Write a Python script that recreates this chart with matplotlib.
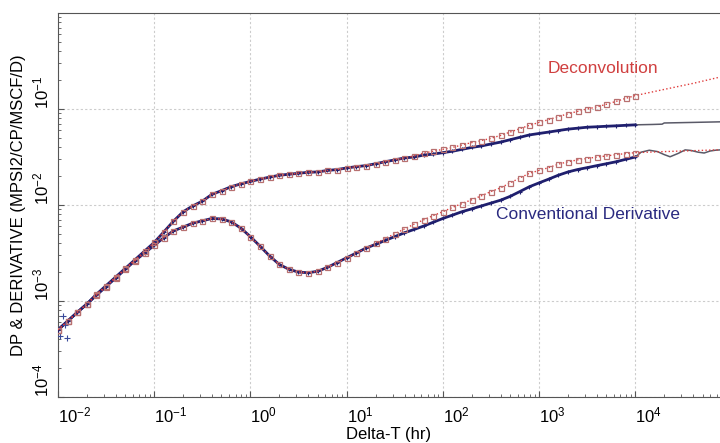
import matplotlib
matplotlib.use('Agg')
import matplotlib.pyplot as plt
from matplotlib.ticker import NullFormatter

plt.rcParams['font.family'] = ['Liberation Sans', 'DejaVu Sans']
plt.rcParams['mathtext.fontset'] = 'custom'
plt.rcParams['mathtext.rm'] = 'Liberation Sans'
plt.rcParams['mathtext.it'] = 'Liberation Sans:italic'
plt.rcParams['mathtext.bf'] = 'Liberation Sans:bold'

# sample times (hr), one point every 0.1 log cycle
times = [0.01, 0.0126, 0.0158, 0.02, 0.0251, 0.0316, 0.0398, 0.0501, 0.0631, 0.0794,
         0.1, 0.126, 0.158, 0.2, 0.251, 0.316, 0.398, 0.501, 0.631, 0.794,
         1, 1.26, 1.58, 2, 2.51, 3.16, 3.98, 5.01, 6.31, 7.94,
         10, 12.6, 15.8, 20, 25.1, 31.6, 39.8, 50.1, 63.1, 79.4,
         100, 126, 158, 200, 251, 316, 398, 501, 631, 794,
         1000, 1260, 1580, 2000, 2510, 3160, 3980, 5010, 6310, 7940, 10000]

# conventional pressure change
dp_conv = [5.01e-4, 6.17e-4, 7.59e-4, 9.33e-4, 1.175e-3, 1.445e-3, 1.778e-3, 2.188e-3, 2.69e-3, 3.31e-3,
           4.07e-3, 5.25e-3, 6.76e-3, 8.51e-3, 9.77e-3, 0.01096, 0.0129, 0.0141, 0.0155, 0.0166,
           0.0176, 0.0186, 0.0195, 0.0204, 0.0209, 0.0214, 0.0219, 0.0221, 0.0229, 0.0234,
           0.0243, 0.0251, 0.0257, 0.0269, 0.0282, 0.0295, 0.0309, 0.0316, 0.0331, 0.0339,
           0.0351, 0.0363, 0.0380, 0.0398, 0.0412, 0.0432, 0.0452, 0.0479, 0.0507, 0.0537,
           0.0556, 0.0575, 0.0596, 0.0617, 0.0631, 0.0646, 0.0653, 0.0661, 0.0668, 0.0676, 0.0684]

# deconvolved pressure change
dp_deconv = [5.01e-4, 6.17e-4, 7.59e-4, 9.33e-4, 1.175e-3, 1.445e-3, 1.778e-3, 2.188e-3, 2.69e-3, 3.31e-3,
             4.07e-3, 5.25e-3, 6.76e-3, 8.51e-3, 9.77e-3, 0.01096, 0.0129, 0.0141, 0.0155, 0.0166,
             0.0176, 0.0186, 0.0195, 0.0204, 0.0209, 0.0214, 0.0219, 0.0221, 0.0229, 0.0234,
             0.0243, 0.0251, 0.0257, 0.0269, 0.0282, 0.0295, 0.0309, 0.0324, 0.0347, 0.0363,
             0.0380, 0.0398, 0.0422, 0.0447, 0.0468, 0.0495, 0.0531, 0.0575, 0.0624, 0.0676,
             0.0724, 0.0776, 0.0832, 0.0891, 0.0944, 0.100, 0.105, 0.112, 0.120, 0.129, 0.138]

# conventional derivative
der_conv = [5.01e-4, 6.17e-4, 7.59e-4, 9.33e-4, 1.148e-3, 1.413e-3, 1.738e-3, 2.138e-3, 2.63e-3, 3.16e-3,
            3.80e-3, 4.57e-3, 5.37e-3, 5.89e-3, 6.46e-3, 6.84e-3, 7.24e-3, 7.16e-3, 6.68e-3, 5.75e-3,
            4.68e-3, 3.72e-3, 2.95e-3, 2.40e-3, 2.14e-3, 2.00e-3, 1.97e-3, 2.04e-3, 2.24e-3, 2.51e-3,
            2.82e-3, 3.16e-3, 3.55e-3, 3.89e-3, 4.27e-3, 4.68e-3, 5.13e-3, 5.56e-3, 6.03e-3, 6.61e-3,
            7.24e-3, 7.85e-3, 8.51e-3, 9.12e-3, 9.77e-3, 0.01047, 0.01122, 0.0123, 0.0138, 0.0155,
            0.0170, 0.0186, 0.0204, 0.0221, 0.0234, 0.0245, 0.0257, 0.0269, 0.0282, 0.0299, 0.0316]

# deconvolved derivative
der_deconv = [5.01e-4, 6.17e-4, 7.59e-4, 9.33e-4, 1.148e-3, 1.413e-3, 1.738e-3, 2.138e-3, 2.63e-3, 3.16e-3,
              3.80e-3, 4.57e-3, 5.37e-3, 5.89e-3, 6.46e-3, 6.84e-3, 7.24e-3, 7.16e-3, 6.68e-3, 5.75e-3,
              4.68e-3, 3.72e-3, 2.95e-3, 2.40e-3, 2.14e-3, 2.00e-3, 1.97e-3, 2.04e-3, 2.24e-3, 2.51e-3,
              2.82e-3, 3.16e-3, 3.55e-3, 3.98e-3, 4.47e-3, 5.01e-3, 5.62e-3, 6.31e-3, 7.00e-3, 7.76e-3,
              8.51e-3, 9.44e-3, 0.01035, 0.01135, 0.01245, 0.0138, 0.0151, 0.0170, 0.0191, 0.0214,
              0.0229, 0.0245, 0.0266, 0.0282, 0.0295, 0.0305, 0.0316, 0.0324, 0.0335, 0.0343, 0.0351]

# late-time model lines past the last data point
ext_t = [10000, 20000, 40000, 76000]
dp_deconv_ext = [0.138, 0.160, 0.185, 0.215]
der_deconv_ext = [0.0351, 0.0360, 0.0368, 0.0376]
dp_conv_ext_t = [10000, 15000, 19000, 20000, 40000, 76000]
dp_conv_ext = [0.0684, 0.0690, 0.0695, 0.0715, 0.0725, 0.0735]
der_conv_ext_t = [10000, 11500, 14000, 17000, 20000, 23000, 28000, 33000, 38000,
                  45000, 52000, 60000, 68000, 76000]
der_conv_ext = [0.0316, 0.0355, 0.0372, 0.0360, 0.0335, 0.0318, 0.0345, 0.0375, 0.0370,
                0.0355, 0.0348, 0.0365, 0.0372, 0.0375]

# a few scattered early points
early_t = [0.0105, 0.0112, 0.0125, 0.0118]
early_y = [4.3e-4, 7.0e-4, 4.1e-4, 5.6e-4]

xticks = [1e-2, 1e-1, 1, 10, 100, 1000, 10000]
xlabels = ['$\\mathregular{10^{-2}}$', '$\\mathregular{10^{-1}}$', '$\\mathregular{10^{0}}$',
           '$\\mathregular{10^{1}}$', '$\\mathregular{10^{2}}$', '$\\mathregular{10^{3}}$',
           '$\\mathregular{10^{4}}$']
yticks = [1e-4, 1e-3, 1e-2, 1e-1]
ylabels = ['$\\mathregular{10^{-4}}$', '$\\mathregular{10^{-3}}$', '$\\mathregular{10^{-2}}$',
           '$\\mathregular{10^{-1}}$']

navy = '#1f1f6e'
red = '#e03c3c'
sq = '#b87070'
gray = '#5a5a68'

fig = plt.figure(figsize=(7.2, 4.43), dpi=100)
ax = fig.add_axes([58 / 720, 46 / 443, 662 / 720, 384 / 443])
ax.set_xscale('log')
ax.set_yscale('log')

# conventional data + model
ax.plot(times, dp_conv, color=navy, lw=2.0, marker='+', ms=3.5, mew=0.8, zorder=3)
ax.plot(times, der_conv, color=navy, lw=2.0, marker='+', ms=3.5, mew=0.8, zorder=3)
ax.plot(early_t, early_y, ls='none', marker='+', ms=4, mew=0.8, color='#3a4a9a', zorder=3)
ax.plot(dp_conv_ext_t, dp_conv_ext, color=gray, lw=1.1, zorder=2)
ax.plot(der_conv_ext_t, der_conv_ext, color=gray, lw=1.1, zorder=2)

# deconvolution
ax.plot(times + ext_t[1:], dp_deconv + dp_deconv_ext[1:], color=red, lw=1.0, ls=':', zorder=4)
ax.plot(times + ext_t[1:], der_deconv + der_deconv_ext[1:], color=red, lw=1.0, ls=':', zorder=4)
ax.plot(times, dp_deconv, ls='none', marker='s', ms=3.6, mfc='none', mec=sq, mew=0.9, zorder=5)
ax.plot(times, der_deconv, ls='none', marker='s', ms=3.6, mfc='none', mec=sq, mew=0.9, zorder=5)

ax.text(4620, 0.267, 'Deconvolution', color='#d04040', fontsize=12.5, ha='center', va='center')
ax.text(3240, 0.0079, 'Conventional Derivative', color='#2a2a80', fontsize=12.5,
        ha='center', va='center')

ax.set_xlim(0.01, 76000)
ax.set_ylim(1e-4, 1.0)
ax.set_xticks(xticks)
ax.set_xticklabels(xlabels, ha='left', fontsize=12)
ax.set_yticks(yticks)
ax.set_yticklabels(ylabels, rotation=90, va='bottom', fontsize=12)
ax.xaxis.set_minor_formatter(NullFormatter())
ax.yaxis.set_minor_formatter(NullFormatter())
ax.tick_params(which='both', direction='in', color='#555555')
ax.tick_params(which='major', length=4)
ax.tick_params(which='minor', length=2)
ax.tick_params(axis='x', pad=6)
ax.tick_params(axis='y', pad=5)

ax.grid(True, which='major', color='#cccccc', ls=(0, (2, 2)), lw=0.8)
ax.spines['right'].set_visible(False)
for s in ['left', 'bottom', 'top']:
    ax.spines[s].set_color('#555555')

ax.set_xlabel('Delta-T (hr)', fontsize=12, labelpad=1)
ax.set_ylabel('DP & DERIVATIVE (MPSI2/CP/MSCF/D)', fontsize=12, labelpad=4)

fig.savefig('out.png', dpi=100)
